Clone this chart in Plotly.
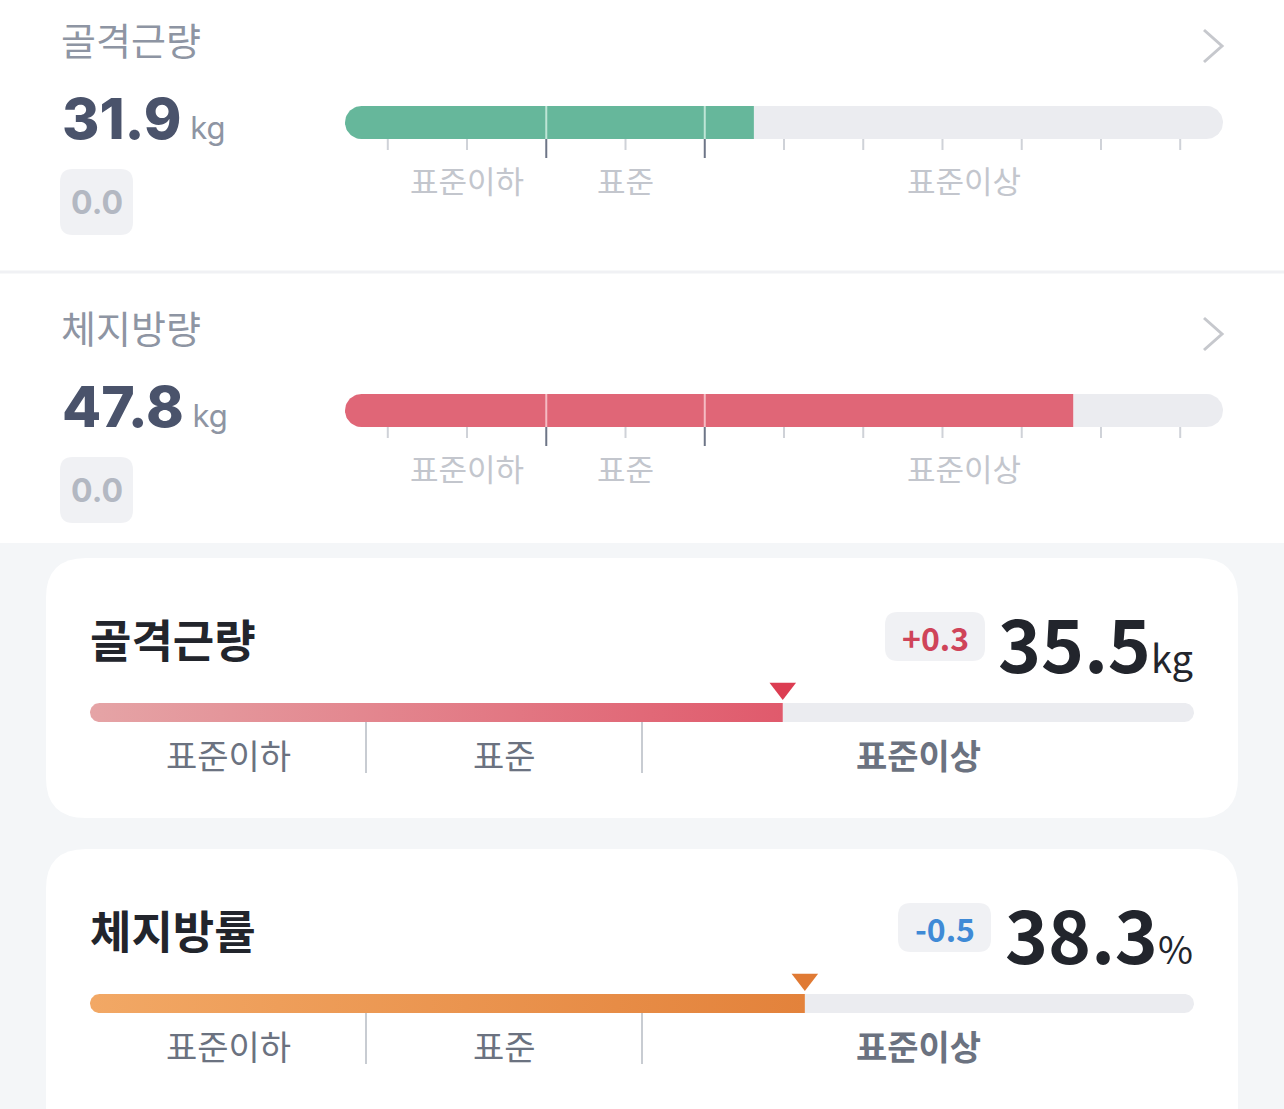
import numpy as np
import plotly.graph_objects as go

W, H = 1284, 1109

# ---------------- data ----------------
# top list rows (InBody style scale, positions in tick units 0..10)
TOP_TITLES = ["골격근량", "체지방량"]
TOP_VALUES = [31.9, 47.8]
TOP_UNITS = ["kg", "kg"]
TOP_CHANGES = [0.0, 0.0]
TOP_LEVELS = [4.62, 8.65]          # where the coloured fill ends on the scale
TOP_TICKS = list(range(11))
TOP_BOUNDS = [2, 4]                 # 표준 range limits on the scale
TOP_SCALE = [-0.54, 10.54]          # track extent
ZONES = ["표준이하", "표준", "표준이상"]

# card rows (zone scale 0..4 : 표준이하 0-1, 표준 1-2, 표준이상 2-4)
CARD_TITLES = ["골격근량", "체지방률"]
CARD_VALUES = [35.5, 38.3]
CARD_UNITS = ["kg", "%"]
CARD_CHANGES = [0.3, -0.5]
CARD_LEVELS = [2.51, 2.59]
CARD_BOUNDS = [0, 1, 2, 4]

# ---------------- styles / geometry ----------------
FONT_KR = "Noto Sans CJK KR"
FONT_NUM = "Inter"
TOP_FILL_COLORS = ["#66b79b", "#e06677"]
TOP_SEP_COLORS = ["#bfe5d6", "#f5bcc4"]
CARD_GRADIENTS = [("#e5a4a6", "#e05a6c"), ("#f2a865", "#e3823b")]
CARD_TRI_COLORS = ["#dc3d52", "#e07a34"]
CHANGE_POS, CHANGE_NEG, CHANGE_ZERO = "#cf4459", "#3f8ad6", "#b3b8c2"
TRACK = "#ebecf0"

TOP_OFF = [0, 288]
CARD_OFF = [0, 291]
TOP_X0, TOP_X1 = 345, 1223
CARD_X0, CARD_X1 = 90, 1194

shapes, annotations, traces = [], [], []


def rr_path(x0, y0, x1, y1, r):
    return (f"M{x0+r},{y0} L{x1-r},{y0} Q{x1},{y0} {x1},{y0+r} L{x1},{y1-r} "
            f"Q{x1},{y1} {x1-r},{y1} L{x0+r},{y1} Q{x0},{y1} {x0},{y1-r} "
            f"L{x0},{y0+r} Q{x0},{y0} {x0+r},{y0} Z")


def ann(text, x, y, size, color, xanchor="left", yanchor="middle", xref="x",
        weight="normal", family=FONT_KR):
    annotations.append(dict(text=text, x=x, y=y, xref=xref, yref="y",
                            xanchor=xanchor, yanchor=yanchor, showarrow=False,
                            font=dict(size=size, color=color, family=family, weight=weight)))


def fmt_change(v):
    if v > 0:
        return f"+{v:.1f}", CHANGE_POS
    if v < 0:
        return f"{v:.1f}", CHANGE_NEG
    return f"{v:.1f}", CHANGE_ZERO


def pill(x_from, x_to, yc, h, upp, round_left, round_right):
    """outline of a horizontal bar segment between two scale values, optionally with round ends"""
    r = h / 2
    rx = r * upp
    px, py = [], []
    if round_left:
        th = np.linspace(np.pi / 2, 3 * np.pi / 2, 31)
        px += list(x_from + rx + rx * np.cos(th))
        py += list(yc - r * np.sin(th))
    else:
        px += [x_from, x_from]
        py += [yc - r, yc + r]
    if round_right:
        th = np.linspace(-np.pi / 2, np.pi / 2, 31)
        px += list(x_to - rx + rx * np.cos(th))
        py += list(yc - r * np.sin(th))
    else:
        px += [x_to, x_to]
        py += [yc + r, yc - r]
    return px + [px[0]], py + [py[0]]


def add_fill(ax, px, py, color=None, gradient=None):
    kw = dict(fillcolor=color) if color else dict(
        fillgradient=dict(type="horizontal", colorscale=[[0, gradient[0]], [1, gradient[1]]]))
    traces.append(go.Scatter(x=px, y=py, mode="lines", fill="toself",
                             line=dict(width=0, color="rgba(0,0,0,0)"),
                             xaxis=ax, yaxis="y", hoverinfo="skip", **kw))


# backgrounds
shapes.append(dict(type="rect", xref="x", yref="y", x0=0, x1=W, y0=543, y1=H,
                   fillcolor="#f4f6f8", line_width=0, layer="below"))
shapes.append(dict(type="line", xref="x", yref="y", x0=0, x1=W, y0=272, y1=272,
                   line=dict(color="#f0f1f4", width=3), layer="below"))
for off in CARD_OFF:
    shapes.append(dict(type="path", xref="x", yref="y",
                       path=rr_path(46, 558 + off, 1238, 818 + off if off == 0 else 1180, 40),
                       fillcolor="white", line_width=0, layer="below"))

layout_axes = {}

# ---------------- top rows ----------------
top_upp = (TOP_SCALE[1] - TOP_SCALE[0]) / (TOP_X1 - TOP_X0)
for i in range(2):
    o = TOP_OFF[i]
    ax = f"x{i+2}"
    layout_axes[f"xaxis{i+2}"] = dict(domain=[TOP_X0 / W, TOP_X1 / W], range=TOP_SCALE,
                                      visible=False, fixedrange=True, anchor="y")
    yc, h = 122.5 + o, 33
    lvl = TOP_LEVELS[i]
    px, py = pill(lvl, TOP_SCALE[1], yc, h, top_upp, False, True)
    add_fill(ax, px, py, color=TRACK)
    px, py = pill(TOP_SCALE[0], lvl, yc, h, top_upp, True, False)
    add_fill(ax, px, py, color=TOP_FILL_COLORS[i])
    for b in TOP_BOUNDS:
        if b < lvl:
            shapes.append(dict(type="line", xref=ax, yref="y", x0=b, x1=b, y0=yc - h / 2, y1=yc + h / 2,
                               line=dict(color=TOP_SEP_COLORS[i], width=2), layer="above"))
    for t in TOP_TICKS:
        dark = t in TOP_BOUNDS
        shapes.append(dict(type="line", xref=ax, yref="y", x0=t, x1=t, y0=yc + h / 2,
                           y1=yc + h / 2 + (19 if dark else 11),
                           line=dict(color="#6d7587" if dark else "#cfd2d8", width=2), layer="above"))
    zb = [TOP_TICKS[0]] + TOP_BOUNDS + [TOP_SCALE[1]]
    for k, z in enumerate(ZONES):
        ann(z, (zb[k] + zb[k + 1]) / 2, 179 + o, 31, "#c3c6cd", xanchor="center", xref=ax)
    # texts
    ann(TOP_TITLES[i], 59, 38 + o, 38, "#8e95a3")
    ann(f"{TOP_VALUES[i]:.1f}<span style='font-size:31px;color:#8e95a3;font-weight:400'> {TOP_UNITS[i]}</span>",
        60, 118 + o, 57, "#4a536b", family=FONT_NUM, weight=800)
    txt, col = fmt_change(TOP_CHANGES[i])
    shapes.append(dict(type="path", xref="x", yref="y", path=rr_path(60, 169 + o, 133, 235 + o, 13),
                       fillcolor="#f0f1f4", line_width=0, layer="above"))
    ann(txt, 96.5, 202 + o, 32, col, xanchor="center", family=FONT_NUM, weight="bold")
    # chevron
    shapes.append(dict(type="path", xref="x", yref="y",
                       path=f"M1204,{30+o} L1222,{46+o} L1204,{62+o}",
                       line=dict(color="#c6c8cd", width=3), layer="above"))

# ---------------- cards ----------------
card_upp = (CARD_BOUNDS[-1] - CARD_BOUNDS[0]) / (CARD_X1 - CARD_X0)
for i in range(2):
    o = CARD_OFF[i]
    ax = f"x{i+4}"
    layout_axes[f"xaxis{i+4}"] = dict(domain=[CARD_X0 / W, CARD_X1 / W],
                                      range=[CARD_BOUNDS[0], CARD_BOUNDS[-1]],
                                      visible=False, fixedrange=True, anchor="y")
    yc, h = 712.5 + o, 19
    lvl = CARD_LEVELS[i]
    px, py = pill(lvl, CARD_BOUNDS[-1], yc, h, card_upp, False, True)
    add_fill(ax, px, py, color=TRACK)
    px, py = pill(CARD_BOUNDS[0], lvl, yc, h, card_upp, True, False)
    add_fill(ax, px, py, gradient=CARD_GRADIENTS[i])
    # marker triangle
    traces.append(go.Scatter(x=[lvl], y=[688.5 + o], mode="markers",
                             marker=dict(symbol="triangle-down", size=23, color=CARD_TRI_COLORS[i],
                                         line_width=0),
                             xaxis=ax, yaxis="y", hoverinfo="skip", cliponaxis=False))
    for b in CARD_BOUNDS[1:-1]:
        shapes.append(dict(type="line", xref=ax, yref="y", x0=b, x1=b, y0=yc + h / 2, y1=773 + o,
                           line=dict(color="#c8ccd2", width=2), layer="above"))
    for k, z in enumerate(ZONES):
        active = CARD_BOUNDS[k] <= lvl < CARD_BOUNDS[k + 1]
        ann(z, (CARD_BOUNDS[k] + CARD_BOUNDS[k + 1]) / 2, 754 + o, 34,
            "#6b7280", xanchor="center", xref=ax, weight="bold" if active else "normal")
    ann(CARD_TITLES[i], 88, 638 + o, 45, "#22252c", weight="bold")
    ann(f"{CARD_VALUES[i]:.1f}<span style='font-size:38px;font-weight:400'>{CARD_UNITS[i]}</span>",
        1195, 641 + o, 73, "#22252c", xanchor="right", weight="bold")
    txt, col = fmt_change(CARD_CHANGES[i])
    bx0, bx1 = (885, 985) if i == 0 else (898, 991)
    shapes.append(dict(type="path", xref="x", yref="y", path=rr_path(bx0, 612 + o, bx1, 661 + o, 13),
                       fillcolor="#f0f1f4", line_width=0, layer="above"))
    ann(txt, (bx0 + bx1) / 2, 637 + o, 32, col, xanchor="center", weight="bold")

fig = go.Figure(data=traces)
fig.update_layout(
    width=W, height=H, margin=dict(l=0, r=0, t=0, b=0),
    paper_bgcolor="white", plot_bgcolor="rgba(0,0,0,0)", showlegend=False,
    xaxis=dict(range=[0, W], visible=False, fixedrange=True, domain=[0, 1]),
    yaxis=dict(range=[H, 0], visible=False, fixedrange=True, domain=[0, 1]),
    shapes=shapes, annotations=annotations,
    **layout_axes,
)
fig.write_html("out.html", config={"displayModeBar": False},
               post_script="document.body.style.margin='0';document.body.style.padding='0';")
